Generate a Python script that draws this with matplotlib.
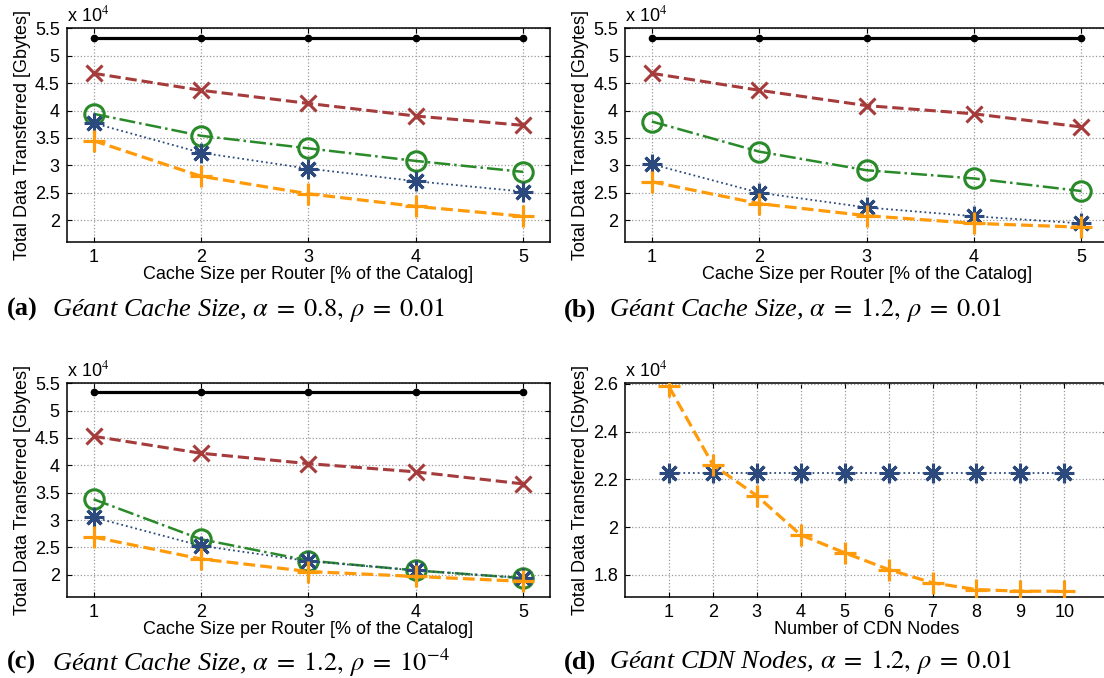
import matplotlib
matplotlib.use("Agg")
import matplotlib.pyplot as plt
from matplotlib.ticker import FuncFormatter

plt.rcParams['font.family'] = ['Liberation Sans', 'DejaVu Sans']
plt.rcParams['mathtext.fontset'] = 'stix'

# data (units of 10^4 Gbytes)
cache_x = [1, 2, 3, 4, 5]

a_black = [5.33, 5.33, 5.33, 5.33, 5.33]
a_red = [4.68, 4.37, 4.13, 3.90, 3.73]
a_green = [3.94, 3.54, 3.31, 3.08, 2.88]
a_blue = [3.77, 3.23, 2.94, 2.71, 2.52]
a_orange = [3.45, 2.80, 2.48, 2.25, 2.07]

b_black = [5.33, 5.33, 5.33, 5.33, 5.33]
b_red = [4.68, 4.37, 4.09, 3.94, 3.70]
b_green = [3.80, 3.25, 2.91, 2.76, 2.53]
b_blue = [3.02, 2.50, 2.23, 2.07, 1.94]
b_orange = [2.70, 2.30, 2.08, 1.94, 1.87]

c_black = [5.33, 5.33, 5.33, 5.33, 5.33]
c_red = [4.53, 4.22, 4.03, 3.88, 3.66]
c_green = [3.38, 2.65, 2.26, 2.08, 1.94]
c_blue = [3.05, 2.53, 2.25, 2.08, 1.94]
c_orange = [2.69, 2.29, 2.06, 1.97, 1.88]

cdn_x = [1, 2, 3, 4, 5, 6, 7, 8, 9, 10]
d_blue = [2.226] * 10
d_orange = [2.589, 2.261, 2.131, 1.967, 1.892, 1.822, 1.766, 1.738, 1.731, 1.731]

captions = [
    ("(a)", r"Géant Cache Size, $\alpha \;=\; 0.8,\, \rho \;=\; 0.01$"),
    ("(b)", r"Géant Cache Size, $\alpha \;=\; 1.2,\, \rho \;=\; 0.01$"),
    ("(c)", r"Géant Cache Size, $\alpha \;=\; 1.2,\, \rho \;=\; 10^{-4}$"),
    ("(d)", r"Géant CDN Nodes, $\alpha \;=\; 1.2,\, \rho \;=\; 0.01$"),
]

RED = '#a53b3b'
GREEN = '#2a8a2a'
BLUE = '#2c4a7e'
ORANGE = '#ff9a0a'
FS = 13

fig = plt.figure(figsize=(11.04, 6.78), dpi=100)

W = 0.4378
H = 0.315
rects = [
    [0.0604, 0.6431, W, H],
    [0.5661, 0.6431, W, H],
    [0.0604, 0.1199, W, H],
    [0.5661, 0.1199, W, H],
]
axs = [fig.add_axes(r) for r in rects]


def style(ax):
    ax.grid(True, linestyle=':', color='#9a9a9a', linewidth=0.9)
    ax.tick_params(direction='in', length=3.5, width=0.8, labelsize=FS,
                   top=True, right=True, pad=5)
    for s in ax.spines.values():
        s.set_linewidth(1.1)
    ax.yaxis.set_major_formatter(FuncFormatter(lambda v, p: '%g' % round(v, 4)))
    ax.set_ylabel('Total Data Transferred [Gbytes]', fontsize=FS, labelpad=3)
    ax.text(0.0, 1.012, r'x 10$^{4}$', transform=ax.transAxes, fontsize=FS,
            ha='left', va='bottom')


def cache_plot(ax, black, red, green, blue, orange):
    ax.plot(cache_x, black, '-', color='black', lw=2.3, marker='o', ms=4.5, zorder=3)
    ax.plot(cache_x, red, '--', color=RED, lw=2.2, marker='x', ms=12, mew=2.2, zorder=3)
    ax.plot(cache_x, green, '-.', color=GREEN, lw=1.8, marker='o', ms=14, mew=2.2,
            mfc='none', zorder=3)
    ax.plot(cache_x, blue, ':', color=BLUE, lw=1.3, zorder=3)
    ax.plot(cache_x, blue, ' ', color=BLUE, marker=(8, 2, 0), ms=14, mew=2.2, zorder=4)
    ax.plot(cache_x, orange, '--', color=ORANGE, lw=2.3, marker='+', ms=16, mew=2.3, zorder=4)
    ax.set_xlim(0.75, 5.25)
    ax.set_ylim(1.6, 5.5)
    ax.set_xticks(cache_x)
    ax.set_yticks([2, 2.5, 3, 3.5, 4, 4.5, 5, 5.5])
    ax.set_xlabel('Cache Size per Router [% of the Catalog]', fontsize=FS, labelpad=0)
    style(ax)


cache_plot(axs[0], a_black, a_red, a_green, a_blue, a_orange)
cache_plot(axs[1], b_black, b_red, b_green, b_blue, b_orange)
cache_plot(axs[2], c_black, c_red, c_green, c_blue, c_orange)

ax = axs[3]
ax.plot(cdn_x, d_blue, ':', color=BLUE, lw=1.3, zorder=3)
ax.plot(cdn_x, d_blue, ' ', color=BLUE, marker=(8, 2, 0), ms=14, mew=2.2, zorder=3)
ax.plot(cdn_x, d_orange, '--', color=ORANGE, lw=2.3, marker='+', ms=16, mew=2.3, zorder=4)
ax.set_xlim(0, 11)
ax.set_ylim(1.708, 2.603)
ax.set_xticks(cdn_x)
ax.set_yticks([1.8, 2.0, 2.2, 2.4, 2.6])
ax.set_xlabel('Number of CDN Nodes', fontsize=FS, labelpad=0)
style(ax)

# captions under each panel
cap_pos = [(0.0063, 0.543), (0.511, 0.543), (0.0063, 0.023), (0.511, 0.023)]
for (lab, txt), (cx, cy) in zip(captions, cap_pos):
    fig.text(cx, cy, lab, fontsize=19, fontweight='bold',
             family='Liberation Serif', ha='left', va='center')
    fig.text(cx + 0.041, cy, txt, fontsize=19, style='italic',
             family='Liberation Serif', ha='left', va='center')

fig.savefig('out.png', dpi=100)
